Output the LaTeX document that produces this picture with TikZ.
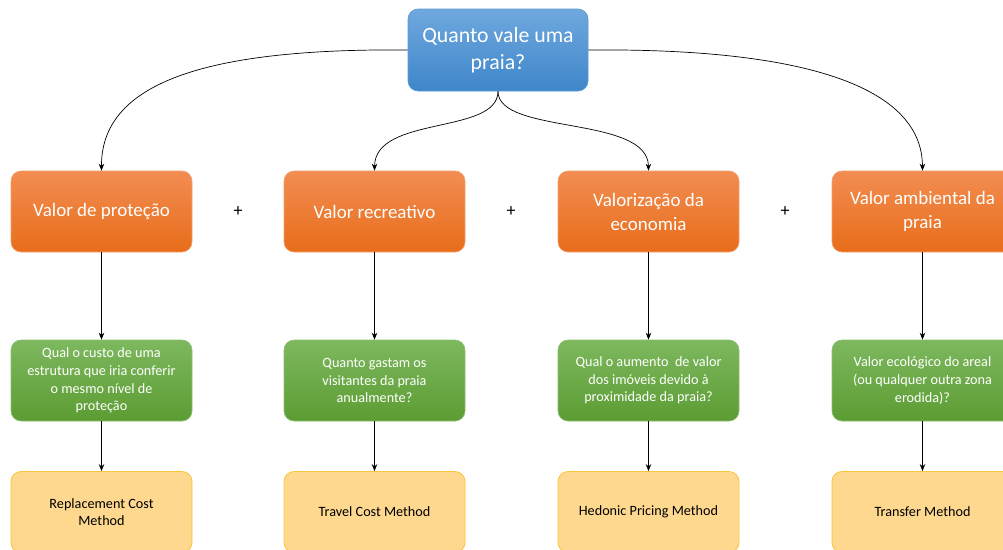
\documentclass[tikz,border=0pt]{standalone}
\usepackage{fontspec}
\setmainfont{Carlito}
\usetikzlibrary{arrows.meta}
\definecolor{bluetop}{HTML}{6FA8DE}
\definecolor{bluebot}{HTML}{3F86CA}
\definecolor{bluedraw}{HTML}{5B9BD5}
\definecolor{orgtop}{HTML}{F28D52}
\definecolor{orgbot}{HTML}{E86D1A}
\definecolor{orgdraw}{HTML}{F4A070}
\definecolor{grntop}{HTML}{7DB85E}
\definecolor{grnbot}{HTML}{5C9C33}
\definecolor{grndraw}{HTML}{8CC070}
\definecolor{ylwfill}{HTML}{FED88F}
\definecolor{ylwdraw}{HTML}{FBC53A}
\tikzset{
  box/.style={rounded corners=10pt, minimum width=181pt, minimum height=81pt, align=center, inner sep=2pt},
  topbox/.style={box, minimum width=180pt, minimum height=82pt, top color=bluetop, bottom color=bluebot, draw=bluedraw, line width=0.6pt, text=white, font=\fontsize{21.8}{27}\selectfont},
  catbox/.style={box, top color=orgtop, bottom color=orgbot, draw=orgdraw, line width=0.6pt, text=white, font=\fontsize{19}{24}\selectfont},
  qbox/.style={box, top color=grntop, bottom color=grnbot, draw=grndraw, line width=0.6pt, text=white, font=\fontsize{14.2}{17.6}\selectfont},
  mbox/.style={box, fill=ylwfill, draw=ylwdraw, line width=0.8pt, text=black, font=\fontsize{14.2}{17}\selectfont},
  plus/.style={font=\fontsize{18}{20}\selectfont, text=black},
  arr/.style={-{Stealth[length=7pt,width=5.5pt]}, line width=0.7pt, black}
}
\begin{document}
\begin{tikzpicture}[x=1pt,y=-1pt]
\useasboundingbox (0,0) rectangle (1003,549);
\clip (0,0) rectangle (1003,549);
\fill[white] (0,0) rectangle (1003,549);

\node[topbox] (top) at (498,50) {Quanto vale uma\\praia?};

\node[catbox] (o1) at (101.5,211.5) {Valor de proteção};
\node[catbox] (o2) at (374.5,211.5) {Valor recreativo};
\node[catbox] (o3) at (648.5,211.5) {Valorização da\\economia};
\node[catbox] (o4) at (922.5,211.5) {Valor ambiental da\\praia};

\node[plus] (p1) at (238,212) {+};
\node[plus] (p2) at (511,212) {+};
\node[plus] (p3) at (785,212) {+};

\node[qbox] (g1) at (101.5,380.5) {Qual o custo de uma\\estrutura que iria conferir\\o mesmo nível de\\proteção};
\node[qbox] (g2) at (374.5,380.5) {Quanto gastam os\\visitantes da praia\\anualmente?};
\node[qbox] (g3) at (648.5,380.5) {Qual o aumento~ de valor\\dos imóveis devido à\\proximidade da praia?};
\node[qbox] (g4) at (922.5,380.5) {Valor ecológico do areal\\(ou qualquer outra zona\\erodida)?};

\node[mbox] (y1) at (101.5,512) {Replacement Cost\\Method};
\node[mbox] (y2) at (374.5,512) {Travel Cost Method};
\node[mbox] (y3) at (648.5,512) {Hedonic Pricing Method};
\node[mbox] (y4) at (922.5,512) {Transfer Method};

\draw[arr] (top.west) .. controls (200,48) and (101,85) .. (o1.north);
\draw[arr] (top.east) .. controls (800,48) and (922,85) .. (o4.north);
\draw[arr] (top.south) .. controls (498,135) and (375,115) .. (o2.north);
\draw[arr] (top.south) .. controls (498,135) and (648,115) .. (o3.north);

\foreach \i in {1,2,3,4} {
  \draw[arr] (o\i.south) -- (g\i.north);
  \draw[arr] (g\i.south) -- (y\i.north);
}
\end{tikzpicture}
\end{document}
